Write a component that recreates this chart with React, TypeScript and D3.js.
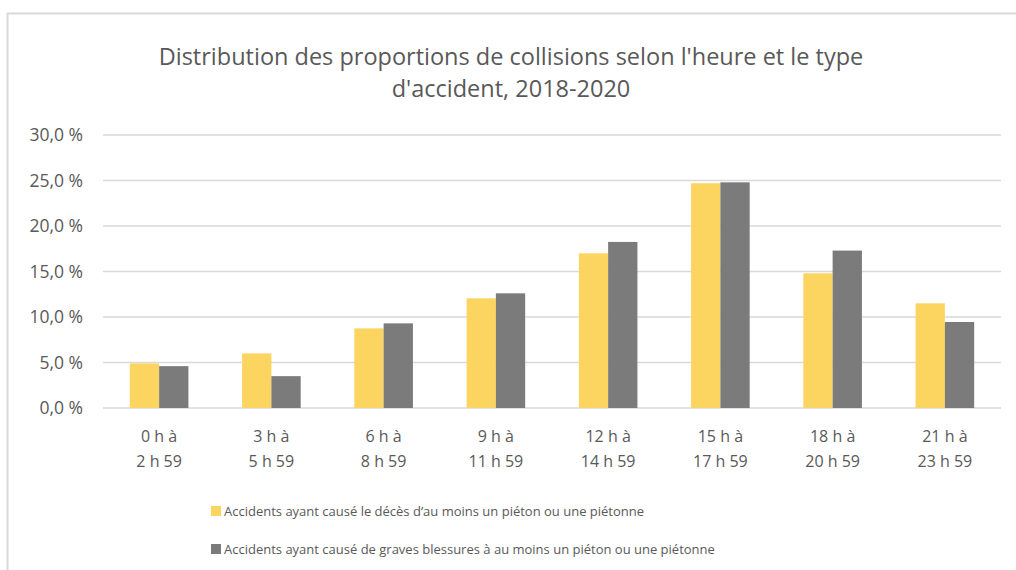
import * as d3 from "d3";
import { useEffect, useRef } from "react";

// tranches horaires (2 lignes par étiquette)
const catTop = ["0 h à", "3 h à", "6 h à", "9 h à", "12 h à", "15 h à", "18 h à", "21 h à"];
const catBottom = ["2 h 59", "5 h 59", "8 h 59", "11 h 59", "14 h 59", "17 h 59", "20 h 59", "23 h 59"];

const seriesNames = [
  "Accidents ayant causé le décès d\u2019au moins un piéton ou une piétonne",
  "Accidents ayant causé de graves blessures à au moins un piéton ou une piétonne",
];
const deces = [4.9, 6.0, 8.75, 12.05, 17.0, 24.7, 14.8, 11.5];
const blessures = [4.6, 3.5, 9.3, 12.6, 18.25, 24.8, 17.3, 9.45];

const yTicks = [0, 5, 10, 15, 20, 25, 30];
const colors = ["#FCD561", "#7B7B7B"];

const App = () => {
  const ref = useRef<SVGSVGElement>(null);

  useEffect(() => {
    const svg = d3.select(ref.current);
    svg.selectAll("*").remove();

    const left = 103, right = 1001, top = 135, bottom = 408;
    const font = "'Open Sans', sans-serif";

    // cadre du graphique
    svg.append("path")
      .attr("d", "M7.5,570 L7.5,13.5 L1016,13.5")
      .attr("fill", "none")
      .attr("stroke", "#d9d9d9")
      .attr("stroke-width", 2);

    // titre
    const title = svg.append("text")
      .attr("text-anchor", "middle")
      .attr("font-family", font)
      .attr("font-size", 23.5)
      .attr("fill", "#595959");
    title.append("tspan").attr("x", 511).attr("y", 65)
      .text("Distribution des proportions de collisions selon l'heure et le type");
    title.append("tspan").attr("x", 511).attr("y", 97)
      .text("d'accident, 2018-2020");

    const x = d3.scaleBand().domain(catTop).range([left, right]).padding(0);
    const groupW = 58.6;
    const x1 = d3.scaleBand().domain(["0", "1"]).range([0, groupW]).padding(0);
    const y = d3.scaleLinear().domain([0, 30]).range([bottom, top]);

    // grille
    svg.append("g")
      .selectAll("line")
      .data(yTicks)
      .join("line")
      .attr("x1", left)
      .attr("x2", right)
      .attr("y1", (d) => y(d))
      .attr("y2", (d) => y(d))
      .attr("stroke", "#d9d9d9")
      .attr("stroke-width", 1.5);

    // étiquettes Y
    svg.append("g")
      .selectAll("text")
      .data(yTicks)
      .join("text")
      .attr("x", 83)
      .attr("y", (d) => y(d) + 6)
      .attr("text-anchor", "end")
      .attr("font-family", font)
      .attr("font-size", 17.5)
      .attr("fill", "#595959")
      .text((d) => d3.format(".1f")(d).replace(".", ",") + " %");

    // barres
    const series = [deces, blessures];
    series.forEach((vals, si) => {
      svg.append("g")
        .selectAll("rect")
        .data(vals)
        .join("rect")
        .attr("x", (d, i) => x(catTop[i])! + x.bandwidth() / 2 - groupW / 2 + x1(String(si))!)
        .attr("y", (d) => y(d))
        .attr("width", x1.bandwidth())
        .attr("height", (d) => bottom - y(d))
        .attr("fill", colors[si]);
    });

    // étiquettes X
    const xl = svg.append("g")
      .selectAll("text")
      .data(catTop)
      .join("text")
      .attr("text-anchor", "middle")
      .attr("font-family", font)
      .attr("font-size", 16)
      .attr("fill", "#595959");
    xl.append("tspan")
      .attr("x", (d) => x(d)! + x.bandwidth() / 2)
      .attr("y", 442)
      .text((d) => d);
    xl.append("tspan")
      .attr("x", (d) => x(d)! + x.bandwidth() / 2)
      .attr("y", 467)
      .text((d, i) => catBottom[i]);

    // légende
    const leg = svg.append("g")
      .selectAll("g")
      .data(seriesNames)
      .join("g")
      .attr("transform", (d, i) => `translate(211,${506 + i * 38})`);
    leg.append("rect")
      .attr("width", 10)
      .attr("height", 10)
      .attr("fill", (d, i) => colors[i]);
    leg.append("text")
      .attr("x", 13)
      .attr("y", 10)
      .attr("font-family", font)
      .attr("font-size", 13)
      .attr("fill", "#595959")
      .text((d) => d);
  }, []);

  return (
    <svg
      ref={ref}
      width={1016}
      height={570}
      style={{ position: "absolute", left: 0, top: 0, background: "#fff" }}
    />
  );
};

export default App;
